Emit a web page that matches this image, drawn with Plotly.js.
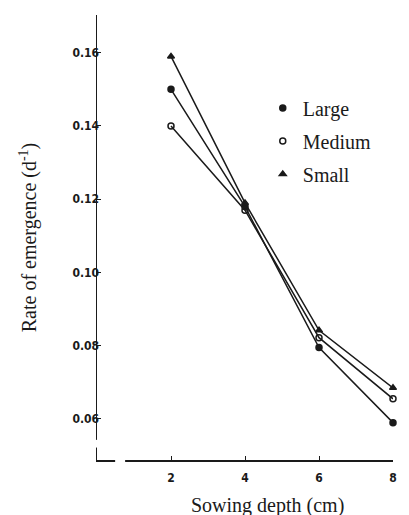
<!DOCTYPE html>
<html>
<head>
<meta charset="utf-8">
<script src="https://cdn.plot.ly/plotly-3.0.1.min.js"></script>
<style>html,body{margin:0;padding:0;background:#fff;}#chart{width:409px;height:515px;}</style>
</head>
<body>
<div id="chart"></div>
<script>
var depth = [2, 4, 6, 8];
var large = [0.150, 0.118, 0.0795, 0.0590];
var medium = [0.140, 0.117, 0.0822, 0.0655];
var small = [0.159, 0.119, 0.0842, 0.0685];
var seriesNames = ['Large', 'Medium', 'Small'];
var yTicks = [0.06, 0.08, 0.10, 0.12, 0.14, 0.16];
var yTickText = ['0.06', '0.08', '0.10', '0.12', '0.14', '0.16'];
var xTicks = [2, 4, 6, 8];

var ink = '#1a1a1a';
var symbols = ['circle', 'circle-open', 'triangle-up'];
var values = [large, medium, small];
var traces = [];
for (var i = 0; i < 3; i++) {
  traces.push({
    x: depth, y: values[i], name: seriesNames[i], legendgroup: seriesNames[i],
    mode: 'lines+markers', showlegend: false, cliponaxis: false,
    line: {color: ink, width: 1.5},
    marker: {symbol: symbols[i], size: 6, color: ink, line: {color: ink, width: 1.5}}
  });
  traces.push({
    x: [null], y: [null], name: seriesNames[i], legendgroup: seriesNames[i],
    mode: 'markers', showlegend: true,
    marker: {symbol: symbols[i], size: 6, color: ink, line: {color: ink, width: 1.5}}
  });
}

var tickFont = {family: 'DejaVu Sans Condensed, DejaVu Sans, sans-serif', size: 12, color: ink, weight: 'bold'};
var serif = 'Liberation Serif, Times New Roman, serif';

var layout = {
  width: 409, height: 515,
  margin: {l: 97, r: 16, t: 15, b: 55},
  paper_bgcolor: '#fff', plot_bgcolor: '#fff',
  showlegend: true,
  legend: {x: 0.56, y: 0.835, xanchor: 'left', yanchor: 'top', bgcolor: 'rgba(0,0,0,0)',
           font: {family: serif, size: 20, color: ink},
           tracegroupgap: 4, itemwidth: 30},
  xaxis: {range: [0, 8], tickvals: xTicks, ticktext: xTicks.map(String),
          showline: true, linecolor: ink, linewidth: 1.5, mirror: false,
          ticks: 'inside', ticklen: 4, tickcolor: ink, showgrid: false, zeroline: false,
          ticklabelstandoff: 6, tickfont: tickFont},
  yaxis: {range: [0.0488, 0.1703], tickvals: yTicks, ticktext: yTickText,
          showline: true, linecolor: ink, linewidth: 1.5,
          ticks: 'inside', ticklen: 4, tickcolor: ink, showgrid: false, zeroline: false,
          ticklabelstandoff: -6, tickfont: tickFont,
          title: {text: 'Rate of emergence (d<sup>-1</sup>)', standoff: 30,
                  font: {family: serif, size: 20, color: ink}}},
  annotations: [{
    text: 'Sowing depth (cm)', xref: 'x', yref: 'paper', x: 4.6, y: 0, yshift: -45,
    xanchor: 'center', yanchor: 'middle', showarrow: false,
    font: {family: serif, size: 20, color: ink}
  }],
  shapes: [
    {type: 'line', xref: 'paper', yref: 'y', x0: 0, x1: 0, y0: 0.0522, y1: 0.0543,
     line: {color: '#fff', width: 4}, layer: 'above'},
    {type: 'line', xref: 'x', yref: 'paper', x0: 0.49, x1: 0.76, y0: 0, y1: 0,
     line: {color: '#fff', width: 4}, layer: 'above'}
  ]
};

Plotly.newPlot('chart', traces, layout, {displayModeBar: false, staticPlot: true});
</script>
</body>
</html>
